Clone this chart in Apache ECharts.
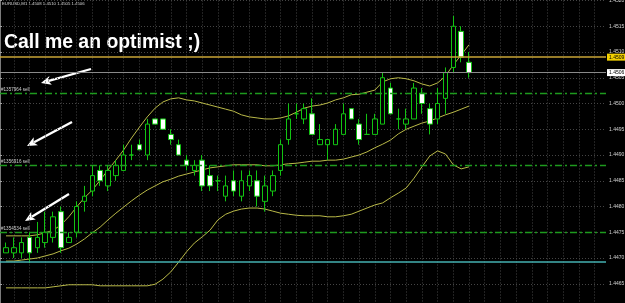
<!DOCTYPE html>
<html><head><meta charset="utf-8">
<style>html,body{margin:0;padding:0;background:#000;overflow:hidden}#c{width:625px;height:303px;}</style>
<script src="https://cdn.jsdelivr.net/npm/echarts@6/dist/echarts.min.js"></script>
</head><body><div id="c"></div>
<script>
// ---- data (EURUSD M1) ----
const candleOpen  = [1.4471,1.4471,1.4471,1.4474,1.4472,1.4473,1.4474,1.4479,1.4473,1.4475,1.4481,1.4483,1.4487,1.4484,1.4486,1.4487,1.4490,1.4492,1.4490,1.4497,1.4497,1.4494,1.4492,1.4489,1.4487,1.4489,1.4486,1.4485,1.4482,1.4485,1.4482,1.4484,1.4485,1.4481,1.4483,1.4487,1.4493,1.4498,1.4497,1.4498,1.4492,1.4492,1.4492,1.4494,1.4499,1.4496,1.4494,1.4494,1.4496,1.4503,1.4497,1.4496,1.4497,1.4502,1.4499,1.4497,1.4501,1.4507,1.4514,1.4508];
const candleClose = [1.4472,1.4472,1.4473,1.4471,1.4474,1.4475,1.4478,1.4472,1.4474,1.4480,1.4482,1.4486,1.4485,1.4487,1.4488,1.4490,1.4490,1.4491,1.4496,1.4496,1.4495,1.4493,1.4490,1.4488,1.4488,1.4484,1.4484,1.4485,1.4484,1.4483,1.4485,1.4486,1.4482,1.4484,1.4486,1.4492,1.4497,1.4498,1.4499,1.4494,1.4493,1.4493,1.4495,1.4498,1.4497,1.4493,1.4494,1.4497,1.4505,1.4498,1.4497,1.4497,1.4503,1.4500,1.4496,1.4500,1.4506,1.4515,1.4509,1.4506];
const candleLow   = [1.4471,1.4470,1.4470,1.4469,1.4471,1.4472,1.4473,1.4471,1.4473,1.4474,1.4479,1.4482,1.4484,1.4483,1.4485,1.4487,1.4489,1.4491,1.4489,1.4496,1.4495,1.4492,1.4490,1.4487,1.4486,1.4483,1.4483,1.4483,1.4481,1.4482,1.4481,1.4483,1.4480,1.4479,1.4482,1.4486,1.4492,1.4497,1.4496,1.4494,1.4492,1.4489,1.4492,1.4494,1.4497,1.4492,1.4494,1.4494,1.4496,1.4498,1.4495,1.4495,1.4497,1.4498,1.4494,1.4496,1.4498,1.4506,1.4508,1.4505];
const candleHigh  = [1.4473,1.4474,1.4474,1.4475,1.4477,1.4479,1.4479,1.4480,1.4475,1.4481,1.4484,1.4488,1.4488,1.4488,1.4489,1.4492,1.4492,1.4493,1.4497,1.4497,1.4497,1.4495,1.4493,1.4490,1.4489,1.4490,1.4488,1.4486,1.4486,1.4487,1.4487,1.4487,1.4487,1.4486,1.4487,1.4493,1.4500,1.4500,1.4500,1.4501,1.4496,1.4493,1.4496,1.4500,1.4499,1.4497,1.4498,1.4498,1.4506,1.4504,1.4499,1.4499,1.4504,1.4503,1.4500,1.4503,1.4507,1.4517,1.4515,1.4510];
const bbUpper  = [1.44743,1.44743,1.44743,1.44743,1.44745,1.44749,1.44754,1.44764,1.44780,1.44799,1.44817,1.44832,1.44851,1.44871,1.44890,1.44910,1.44933,1.44954,1.44974,1.44991,1.45003,1.45009,1.45011,1.45007,1.45005,1.45001,1.44997,1.44993,1.44989,1.44985,1.44978,1.44974,1.44972,1.44970,1.44970,1.44972,1.44976,1.44983,1.44991,1.44995,1.44997,1.45001,1.45007,1.45011,1.45017,1.45018,1.45022,1.45026,1.45042,1.45048,1.45050,1.45048,1.45044,1.45038,1.45034,1.45040,1.45053,1.45075,1.45094,1.45114];
const bbMiddle = [1.44694,1.44694,1.44696,1.44698,1.44700,1.44704,1.44708,1.44714,1.44719,1.44727,1.44737,1.44749,1.44760,1.44774,1.44787,1.44799,1.44811,1.44822,1.44832,1.44840,1.44848,1.44853,1.44859,1.44863,1.44867,1.44871,1.44875,1.44877,1.44879,1.44881,1.44881,1.44881,1.44881,1.44879,1.44879,1.44881,1.44883,1.44884,1.44886,1.44888,1.44888,1.44890,1.44890,1.44892,1.44896,1.44900,1.44906,1.44914,1.44921,1.44929,1.44941,1.44950,1.44956,1.44962,1.44966,1.44972,1.44978,1.44983,1.44989,1.44995];
const bbLower  = [1.44642,1.44642,1.44642,1.44642,1.44642,1.44642,1.44644,1.44646,1.44648,1.44648,1.44648,1.44648,1.44646,1.44646,1.44646,1.44646,1.44646,1.44646,1.44646,1.44649,1.44659,1.44673,1.44692,1.44712,1.44729,1.44741,1.44754,1.44774,1.44785,1.44791,1.44795,1.44797,1.44797,1.44795,1.44791,1.44787,1.44785,1.44783,1.44782,1.44782,1.44782,1.44780,1.44780,1.44782,1.44785,1.44791,1.44797,1.44803,1.44807,1.44817,1.44826,1.44836,1.44855,1.44877,1.44898,1.44908,1.44902,1.44881,1.44873,1.44877];
const slotCount = 77;               // bar slots across the window (rest empty)
const yMin = 1.4460, yMax = 1.4520, yStep = 0.0005;
const sellLevels = [1.4502, 1.4488, 1.4475];
const sellLabels = ['#1357964 sell', '#1356916 sell', '#1354534 sell'];
const alertLevel = 1.4509;
const bidLevel = 1.4506;
const trendLevel = 1.44692;
const headerText = 'EURUSD,M1 1.4508 1.4510 1.4505 1.4506';
const titleText = 'Call me an optimist ;)';

// ---- build ----
const cats = Array.from({length: slotCount}, (_, i) => String(i));
const ohlc = candleOpen.map((o, i) => [o, candleClose[i], candleLow[i], candleHigh[i]]);
const GREEN = '#12c412';
const GRID_C = '#454545';
const FONT = 'Liberation Sans';

const chart = echarts.init(document.getElementById('c'), null, {renderer: 'canvas'});

const arrows = [[91, 69, 41, 83], [72, 122, 27, 146], [69, 194, 25, 221]];
const arrowGraphics = [];
arrows.forEach(([x1, y1, x2, y2]) => {
  const dx = x2 - x1, dy = y2 - y1, L = Math.hypot(dx, dy);
  const ux = dx / L, uy = dy / L, hl = 10, hw = 4.5;
  const bx = x2 - ux * hl, by = y2 - uy * hl;
  arrowGraphics.push({type: 'line', shape: {x1, y1, x2: bx + ux * 2, y2: by + uy * 2}, style: {stroke: '#fff', lineWidth: 2.3}, silent: true});
  arrowGraphics.push({type: 'polygon', shape: {points: [[x2, y2], [bx - uy * hw, by + ux * hw], [bx + ux * 2.5, by + uy * 2.5], [bx + uy * hw, by - ux * hw]]}, style: {fill: '#fff'}, silent: true});
});

const markData = [];
sellLevels.forEach((v, i) => markData.push({
  yAxis: v,
  lineStyle: {color: '#1e9a1e', width: 1.3, type: [7, 3, 2, 3]},
  label: {show: true, position: 'insideStartTop', formatter: sellLabels[i], color: '#cfcfcf', fontSize: 4.6, fontFamily: FONT, distance: [1, 1]}
}));
markData.push({yAxis: alertLevel, lineStyle: {color: '#c8a436', width: 1.5, type: 'solid'},
  label: {show: true, position: 'end', formatter: alertLevel.toFixed(4), color: '#000', backgroundColor: '#f2d000', fontSize: 5, fontFamily: FONT, padding: [1, 2, 1, 2], distance: 1}});
markData.push({yAxis: bidLevel, lineStyle: {color: '#8a8a8a', width: 1, type: 'solid'},
  label: {show: true, position: 'end', formatter: bidLevel.toFixed(4), color: '#000', backgroundColor: '#ffffff', fontSize: 5, fontFamily: FONT, padding: [1, 2, 1, 2], distance: 1}});
markData.push({yAxis: trendLevel, lineStyle: {color: '#44b0b0', width: 1.6, type: 'solid'}, label: {show: false}});

const option = {
  backgroundColor: '#000',
  animation: false,
  grid: [
    {left: 0, width: 606, top: 0.5, height: 309, containLabel: false, outerBoundsMode: 'none'},
    {left: 6, width: 596.4, top: 0.5, height: 309, containLabel: false, outerBoundsMode: 'none'}
  ],
  xAxis: [
    {gridIndex: 0, type: 'value', min: 0, max: 1, show: false},
    {gridIndex: 1, type: 'category', data: cats, boundaryGap: false,
      axisLine: {show: false}, axisTick: {show: false}, axisLabel: {show: false},
      splitLine: {show: true, interval: (idx) => idx % 2 === 1, lineStyle: {color: GRID_C, type: [1, 2], width: 1}}}
  ],
  yAxis: [
    {gridIndex: 0, type: 'value', position: 'right', min: yMin, max: yMax, interval: yStep,
      axisLine: {show: true, lineStyle: {color: '#a4a4a4', width: 1.5}},
      axisTick: {show: true, length: 2, lineStyle: {color: '#a4a4a4'}},
      axisLabel: {show: true, color: '#d4d4d4', fontSize: 5, fontFamily: FONT, margin: 3, formatter: (v) => v.toFixed(4)},
      splitLine: {show: true, lineStyle: {color: GRID_C, type: [1, 2], width: 1}}},
    {gridIndex: 1, type: 'value', min: yMin, max: yMax, show: false, splitLine: {show: false}}
  ],
  graphic: [
    {type: 'text', left: 2, top: 2, style: {text: headerText, fill: '#d8d8d8', font: '4.3px "Liberation Sans"'}, silent: true},
    {type: 'text', left: 4, top: 33, style: {text: titleText, fill: '#ffffff', font: 'bold 19.4px "Liberation Sans"'}, silent: true},
    ...arrowGraphics
  ],
  series: [
    {type: 'line', xAxisIndex: 0, yAxisIndex: 0, data: [[0, yMin], [1, yMin]], symbol: 'none', silent: true,
      lineStyle: {opacity: 0},
      markLine: {symbol: 'none', silent: true, animation: false, precision: 6, data: markData}},
    {type: 'line', xAxisIndex: 1, yAxisIndex: 1, data: bbUpper, symbol: 'none', lineStyle: {color: '#b9b948', width: 1}, silent: true, z: 3},
    {type: 'line', xAxisIndex: 1, yAxisIndex: 1, data: bbMiddle, symbol: 'none', lineStyle: {color: '#b9b948', width: 1}, silent: true, z: 3},
    {type: 'line', xAxisIndex: 1, yAxisIndex: 1, data: bbLower, symbol: 'none', lineStyle: {color: '#b9b948', width: 1}, silent: true, z: 3},
    {type: 'candlestick', xAxisIndex: 1, yAxisIndex: 1, data: ohlc, barWidth: 5, silent: true, z: 4,
      itemStyle: {color: '#000', color0: '#fff', borderColor: GREEN, borderColor0: GREEN, borderWidth: 1}}
  ]
};
chart.setOption(option);
</script></body></html>
